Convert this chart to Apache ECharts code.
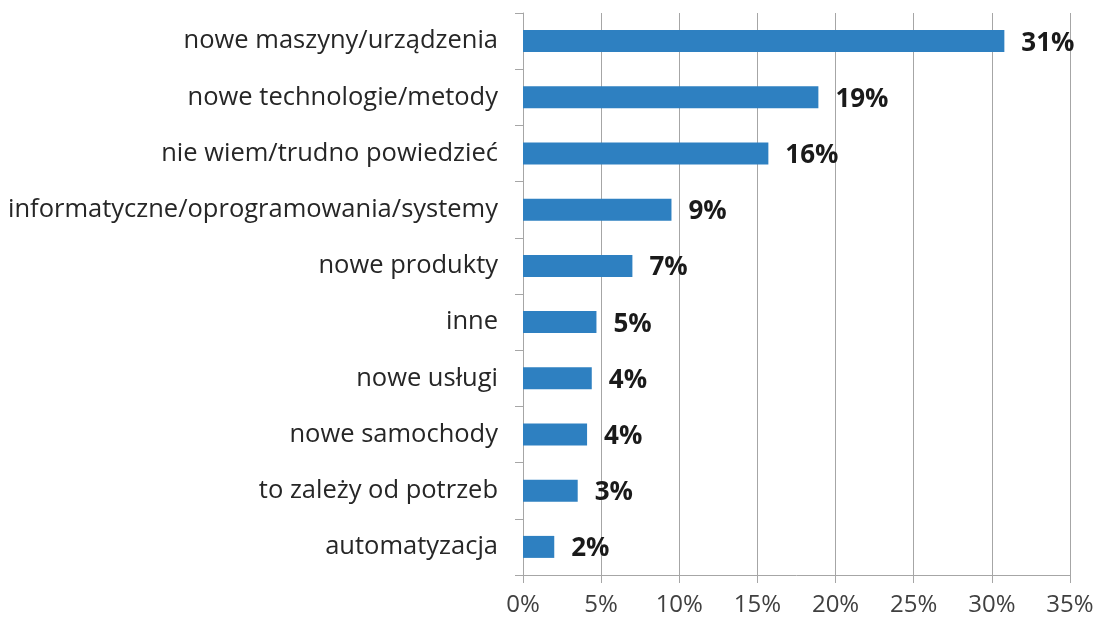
<!DOCTYPE html>
<html>
<head>
<meta charset="utf-8">
<script src="https://cdn.jsdelivr.net/npm/echarts@6/dist/echarts.min.js"></script>
<style>
html,body{margin:0;padding:0;background:#fff;}
#chart{width:1097px;height:624px;}
</style>
</head>
<body>
<div id="chart"></div>
<script>
// kategorie od góry do dołu
var categories = ['nowe maszyny/urządzenia','nowe technologie/metody','nie wiem/trudno powiedzieć','informatyczne/oprogramowania/systemy','nowe produkty','inne','nowe usługi','nowe samochody','to zależy od potrzeb','automatyzacja'];
var values = [30.8, 18.9, 15.7, 9.5, 7.0, 4.7, 4.4, 4.1, 3.5, 2.0];
var valueLabels = ['31%','19%','16%','9%','7%','5%','4%','4%','3%','2%'];
var xTicks = [0, 5, 10, 15, 20, 25, 30, 35];

var chart = echarts.init(document.getElementById('chart'));
var option = {
	animation: false,
	grid: {left: 523, right: 27, top: 13, bottom: 49},
	xAxis: {
		type: 'value',
		min: xTicks[0],
		max: xTicks[xTicks.length - 1],
		interval: 5,
		axisLine: {show: true, lineStyle: {color: '#a6a6a6', width: 1}},
		axisTick: {show: true, length: 8, lineStyle: {color: '#a6a6a6'}},
		splitLine: {show: true, lineStyle: {color: '#a6a6a6', width: 1}},
		axisLabel: {
			formatter: '{value}%',
			fontFamily: 'Open Sans',
			fontSize: 24,
			color: '#404040',
			margin: 18
		}
	},
	yAxis: {
		type: 'category',
		inverse: true,
		data: categories,
		axisLine: {show: true, lineStyle: {color: '#a6a6a6', width: 1}},
		axisTick: {show: true, length: 8, lineStyle: {color: '#a6a6a6'}},
		axisLabel: {
			fontFamily: 'Open Sans',
			fontSize: 25.5,
			color: '#262626',
			margin: 25
		}
	},
	series: [{
		type: 'bar',
		data: values,
		barWidth: 22,
		itemStyle: {color: '#2e80c1'},
		label: {
			show: true,
			position: 'right',
			distance: 17,
			offset: [0, 2],
			fontFamily: 'Open Sans',
			fontWeight: 'bold',
			fontSize: 26,
			color: '#1a1a1a',
			formatter: function (p) { return valueLabels[p.dataIndex]; }
		}
	}]
};
chart.setOption(option);
</script>
</body>
</html>
